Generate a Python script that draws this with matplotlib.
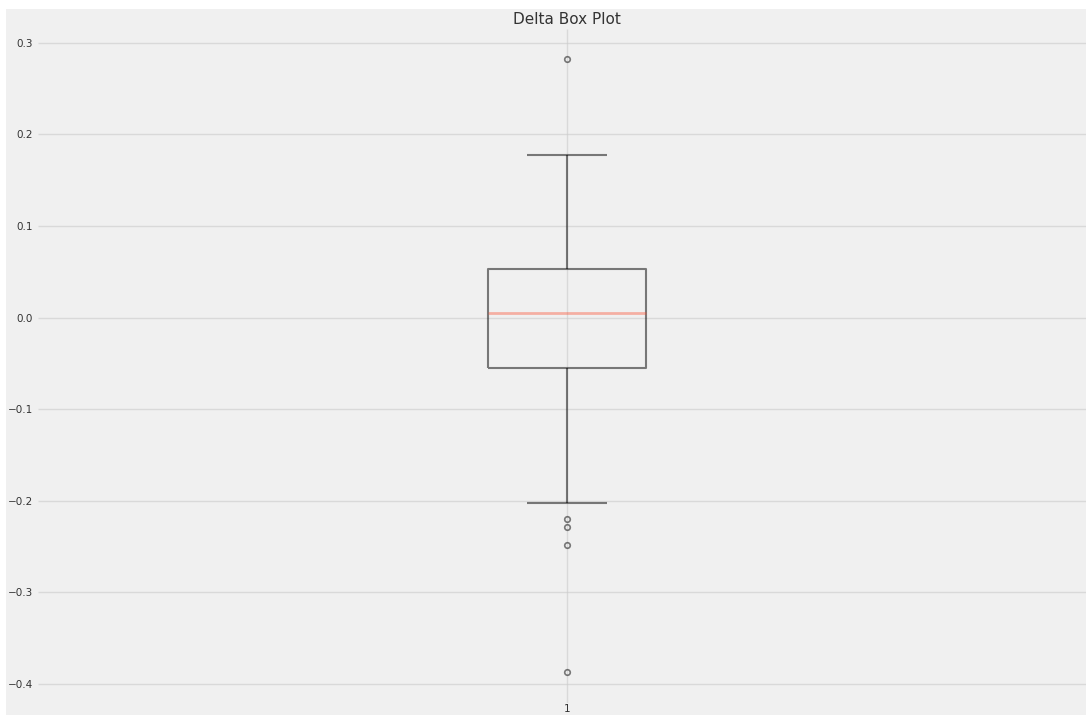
import matplotlib
matplotlib.use("Agg")
import matplotlib.pyplot as plt
from matplotlib.patches import Rectangle

plt.style.use("fivethirtyeight")

# box plot summary
label = "1"
q1 = -0.055
median = 0.005
q3 = 0.053
whisker_low = -0.202
whisker_high = 0.177
outliers = [0.282, -0.220, -0.229, -0.248, -0.387]

stats = [{
    "label": label,
    "q1": q1,
    "med": median,
    "q3": q3,
    "whislo": whisker_low,
    "whishi": whisker_high,
    "fliers": outliers,
}]

fig = plt.figure(figsize=(10.86, 7.15), dpi=100, facecolor="white")
fig.patches.append(Rectangle((6 / 1086, 0), 1, 1 - 9 / 715, transform=fig.transFigure,
                             facecolor="#f0f0f0", edgecolor="none", zorder=-10))
ax = fig.add_axes([38 / 1086, 12.2 / 715, 1058 / 1086, 674.2 / 715])
ax.set_facecolor("#f0f0f0")

line_kw = dict(color="black", alpha=0.5, linewidth=1.5)
ax.bxp(stats,
       boxprops=line_kw, whiskerprops=line_kw, capprops=line_kw,
       medianprops=dict(color="#fc4f30", alpha=0.4, linewidth=2),
       flierprops=dict(marker="o", markersize=4, markerfacecolor="none",
                       markeredgecolor="black", alpha=0.5, markeredgewidth=1.2))

ax.grid(True, color="#cbcbcb", linewidth=1, alpha=0.6)
for s in ax.spines.values():
    s.set_visible(False)
ax.tick_params(labelsize=7.5, colors="#333333", length=0)
ax.tick_params(axis="x", pad=1)
ax.set_title("Delta Box Plot", fontsize=11, color="#333333", pad=3)

fig.savefig("out.png", dpi=100)
